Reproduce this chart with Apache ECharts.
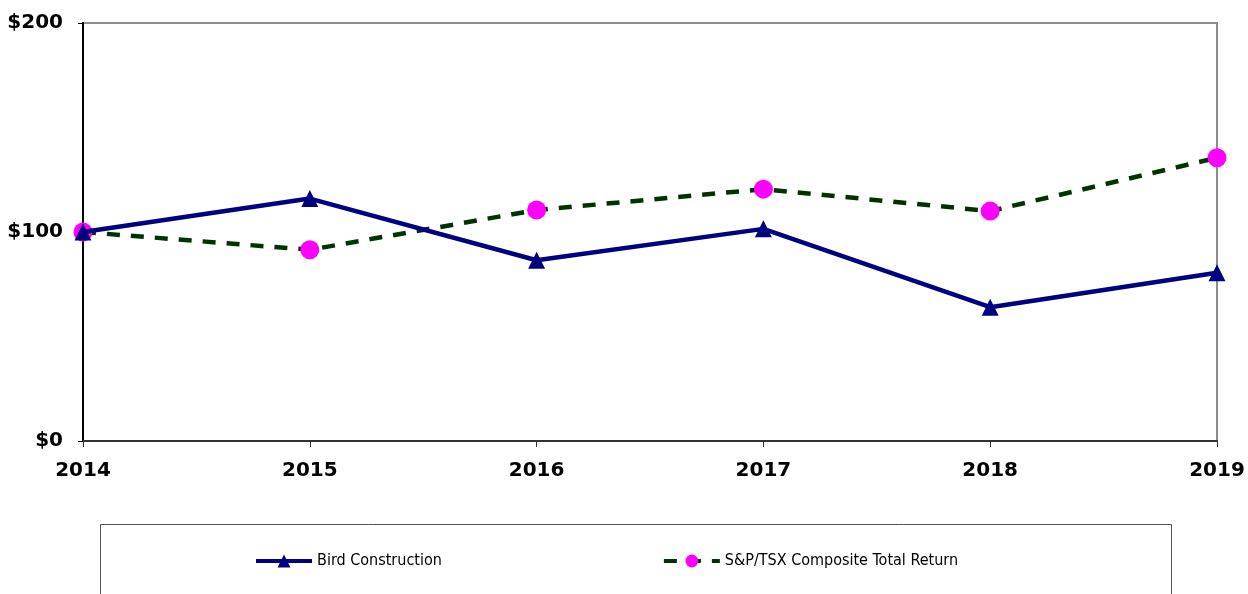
<!DOCTYPE html>
<html>
<head>
<meta charset="utf-8">
<script src="https://cdn.jsdelivr.net/npm/echarts@6/dist/echarts.min.js"></script>
<style>
  html, body { margin: 0; padding: 0; background: #fff; }
  #chart { width: 1248px; height: 594px; }
</style>
</head>
<body>
<div id="chart"></div>
<script>
// data
var years = ['2014', '2015', '2016', '2017', '2018', '2019'];
var birdValues = [100, 116, 86.5, 101.5, 64, 80.5];
var tsxValues = [100, 91.5, 110.5, 120.5, 110, 135.5];
var yTicks = [0, 100, 200];

var myChart = echarts.init(document.getElementById('chart'));
var options = {
    animation: false,
    grid: {
        left: 83, right: 31, top: 23, bottom: 153,
        show: true,
        borderColor: '#8c8c8c',
        borderWidth: 2
    },
    //legend box
    graphic: [{
        type: 'rect',
        shape: { x: 100.5, y: 524.5, width: 1071, height: 90 },
        style: { fill: 'none', stroke: '#555', lineWidth: 1 }
    }],
    legend: {
        top: 553,
        left: 254,
        padding: 0,
        itemGap: 220,
        itemWidth: 56,
        itemHeight: 16,
        textStyle: {
            fontFamily: 'DejaVu Sans Condensed',
            fontSize: 16,
            color: '#000'
        },
        data: [{
            name: 'Bird Construction',
            lineStyle: { width: 4 }
        }, {
            name: 'S&P/TSX Composite Total Return',
            lineStyle: { width: 4 }
        }]
    },
    xAxis: {
        type: 'category',
        boundaryGap: false,
        data: years,
        axisLine: { lineStyle: { color: '#333', width: 2 } },
        axisTick: { show: true, length: 6, lineStyle: { color: '#333', width: 1 } },
        axisLabel: {
            margin: 20,
            fontFamily: 'DejaVu Sans',
            fontWeight: 'bold',
            fontSize: 20,
            color: '#000'
        },
        splitLine: { show: false }
    },
    yAxis: {
        type: 'value',
        min: yTicks[0],
        max: yTicks[yTicks.length - 1],
        interval: 100,
        axisLine: { show: true, lineStyle: { color: '#000', width: 2 } },
        axisTick: { show: true, length: 5, lineStyle: { color: '#000', width: 1 } },
        axisLabel: {
            margin: 20,
            padding: [4, 0, 0, 0],
            fontFamily: 'DejaVu Sans',
            fontWeight: 'bold',
            fontSize: 20,
            color: '#000',
            formatter: function (v) { return '$' + v; }
        },
        splitLine: { show: false }
    },
    series: [{
        name: 'Bird Construction',
        type: 'line',
        data: birdValues,
        symbol: 'triangle',
        symbolSize: 17,
        itemStyle: { color: '#000080' },
        lineStyle: { color: '#000080', width: 4.5 },
        z: 3
    }, {
        name: 'S&P/TSX Composite Total Return',
        type: 'line',
        data: tsxValues,
        symbol: 'circle',
        symbolSize: 19,
        itemStyle: { color: '#ff00ff' },
        lineStyle: { color: '#003300', width: 4.5, type: [13, 11] },
        z: 2
    }]
};
myChart.setOption(options, true);
</script>
</body>
</html>
